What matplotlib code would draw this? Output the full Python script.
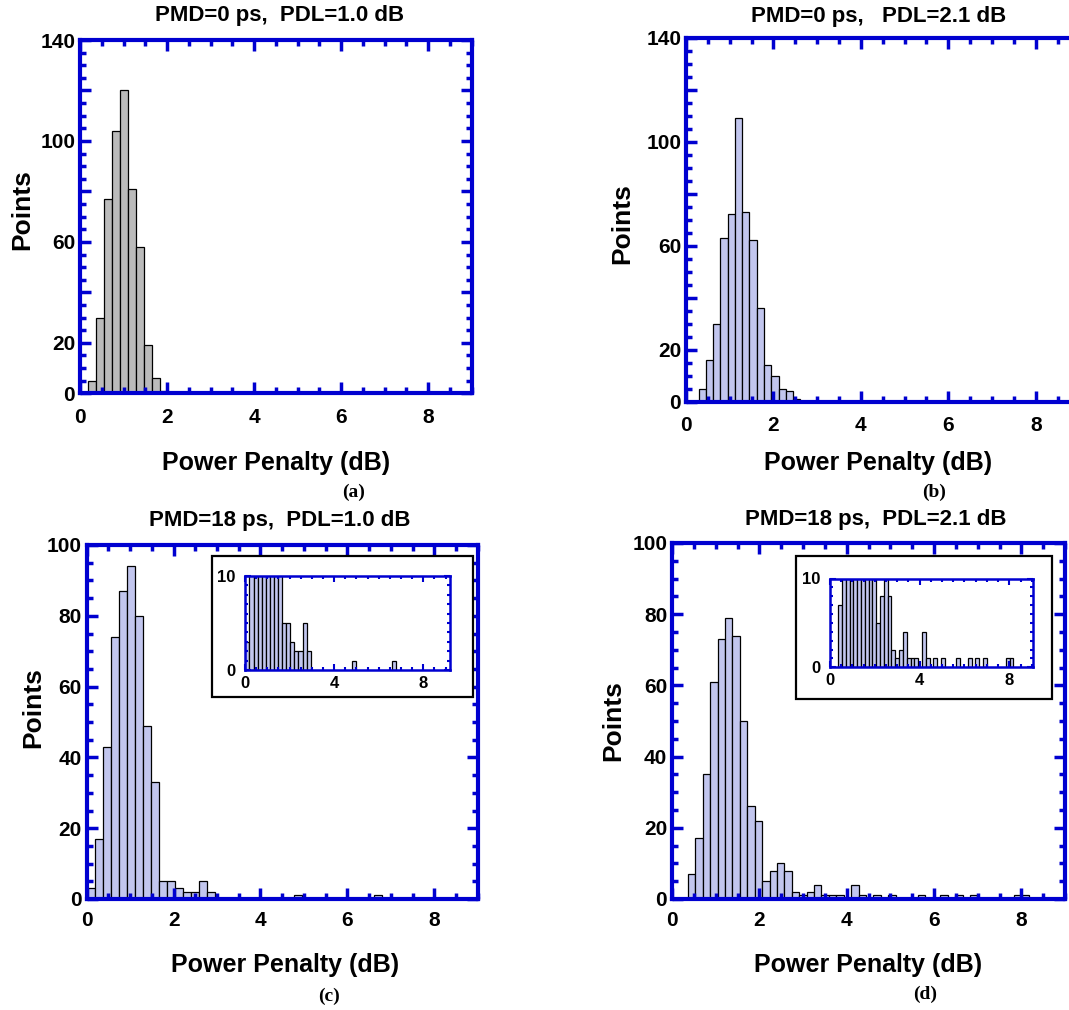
import numpy as np
import matplotlib
matplotlib.use("Agg")
import matplotlib.pyplot as plt
from matplotlib.ticker import MultipleLocator, FuncFormatter
from matplotlib.patches import Rectangle

# ---------------- data ----------------
titles = ["PMD=0 ps,  PDL=1.0 dB", "PMD=0 ps,   PDL=2.1 dB",
          "PMD=18 ps,  PDL=1.0 dB", "PMD=18 ps,  PDL=2.1 dB"]
captions = ["(a)", "(b)", "(c)", "(d)"]
xlabel_text = "Power Penalty (dB)"
ylabel_text = "Points"

# histogram bins: first bin edge (dB), bin width (dB), counts per bin
a_bin_start, a_bin_width = 0.19, 0.183
a_counts = [5, 30, 77, 104, 120, 81, 58, 19, 6, 1]

b_bin_start, b_bin_width = 0.287, 0.1664
b_counts = [5, 16, 30, 63, 72, 109, 73, 62, 36, 14, 10, 5, 4, 1]

c_bin_start, c_bin_width = 0.015, 0.1833
c_counts = ([3, 17, 43, 74, 87, 94, 80, 49, 33, 5, 5, 3, 2, 2, 5, 2]
            + [0] * 10 + [1] + [0] * 9 + [1])

d_bin_start, d_bin_width = 0.363, 0.170
d_counts = [7, 17, 35, 61, 73, 79, 74, 50, 26, 22, 5, 8, 10, 8, 2, 1, 2, 4,
            1, 1, 1, 0, 4, 1, 0, 1, 0, 1, 0, 0, 0, 1, 0, 0, 1, 0, 1, 0, 1,
            0, 0, 0, 0, 0, 1, 1]

x_tick_labels = [0, 2, 4, 6, 8]
y_labels_top = [0, 20, 60, 100, 140]
y_labels_bottom = [0, 20, 40, 60, 80, 100]
inset_x_labels = [0, 4, 8]
inset_y_labels = [0, 10]

# ---------------- style ----------------
plt.rcParams["font.family"] = ["Liberation Sans", "DejaVu Sans"]
plt.rcParams["font.weight"] = "bold"

BLUE = "#0000D0"
GRAY = "#BBBBBB"
LAV = "#C2C6EE"

W, H = 1069, 1010
fig = plt.figure(figsize=(W / 100, H / 100), dpi=100)


def add_axes(x0, x1, y0, y1):
    return fig.add_axes([x0 / W, 1 - y1 / H, (x1 - x0) / W, (y1 - y0) / H])


def label_fmt(allowed):
    return FuncFormatter(lambda v, p: f"{v:.0f}" if int(round(v)) in allowed
                         and abs(v - round(v)) < 1e-6 else "")


def draw_bars(ax, start, width, counts, color):
    counts = np.asarray(counts)
    lefts = start + width * np.arange(len(counts))
    keep = counts > 0
    ax.bar(lefts[keep], counts[keep], width=width, align="edge",
           color=color, edgecolor="black", linewidth=0.9)


def style_main(ax, ymax, ylab, xpad):
    for s in ax.spines.values():
        s.set_color(BLUE)
        s.set_linewidth(3)
    ax.set_xlim(0, 9)
    ax.set_ylim(0, ymax)
    ax.xaxis.set_major_locator(MultipleLocator(2))
    ax.xaxis.set_minor_locator(MultipleLocator(0.5))
    ax.yaxis.set_major_locator(MultipleLocator(20))
    ax.yaxis.set_minor_locator(MultipleLocator(5))
    ax.xaxis.set_major_formatter(label_fmt(x_tick_labels))
    ax.yaxis.set_major_formatter(label_fmt(ylab))
    ax.tick_params(which="both", direction="in", top=True, right=True,
                   color=BLUE)
    ax.tick_params(which="major", length=8, width=2.5)
    ax.tick_params(which="minor", length=4.5, width=2.5)
    ax.tick_params(axis="x", which="major", pad=xpad, labelsize=15)
    ax.tick_params(axis="y", which="major", pad=3.5, labelsize=15)


def make_inset(ax_px, box_px, start, width, counts, xmax):
    bx0, bx1, by0, by1 = box_px
    rect = Rectangle((bx0 / W, 1 - by1 / H), (bx1 - bx0) / W, (by1 - by0) / H,
                     transform=fig.transFigure, facecolor="white",
                     edgecolor="black", linewidth=1.6, zorder=3)
    fig.add_artist(rect)
    ia = add_axes(*ax_px)
    ia.set_zorder(4)
    draw_bars(ia, start, width, counts, LAV)
    ia.set_xlim(0, xmax)
    ia.set_ylim(0, 10)
    for s in ia.spines.values():
        s.set_color(BLUE)
        s.set_linewidth(1.8)
    ia.xaxis.set_major_locator(MultipleLocator(4))
    ia.xaxis.set_minor_locator(MultipleLocator(0.5))
    ia.yaxis.set_major_locator(MultipleLocator(10))
    ia.yaxis.set_minor_locator(MultipleLocator(1))
    ia.xaxis.set_major_formatter(label_fmt(inset_x_labels))
    ia.yaxis.set_major_formatter(label_fmt(inset_y_labels))
    ia.tick_params(which="both", direction="in", top=True, right=True,
                   color=BLUE, width=1.5)
    ia.tick_params(which="major", length=4.5)
    ia.tick_params(which="minor", length=2.5)
    ia.tick_params(axis="x", which="major", pad=4, labelsize=12)
    ia.tick_params(axis="y", which="major", pad=7, labelsize=12)
    return ia


def ftext(x, y, s, **kw):
    fig.text(x / W, 1 - y / H, s, **kw)


# ---------------- panels ----------------
ax_a = add_axes(80, 471.7, 40, 393.3)
draw_bars(ax_a, a_bin_start, a_bin_width, a_counts, GRAY)
style_main(ax_a, 140, y_labels_top, 10.4)

ax_b = add_axes(686, 1079.5, 37.7, 401.7)
draw_bars(ax_b, b_bin_start, b_bin_width, b_counts, LAV)
style_main(ax_b, 140, y_labels_top, 10.4)

ax_c = add_axes(86.7, 477.7, 545, 899)
draw_bars(ax_c, c_bin_start, c_bin_width, c_counts, LAV)
style_main(ax_c, 100, y_labels_bottom, 8.9)

ax_d = add_axes(672, 1065, 543, 899)
draw_bars(ax_d, d_bin_start, d_bin_width, d_counts, LAV)
style_main(ax_d, 100, y_labels_bottom, 8.9)

make_inset((245, 450, 576, 670), (211.7, 473.3, 556, 697),
           c_bin_start, c_bin_width, c_counts, 9.2)
make_inset((830, 1033.3, 578.5, 667.3), (795.7, 1051.7, 556, 699.3),
           d_bin_start, d_bin_width, d_counts, 9.07)

# titles
title_kw = dict(fontsize=16, ha="center", va="baseline")
ftext(279.7, 21.5, titles[0], **title_kw)
ftext(879, 22, titles[1], **title_kw)
ftext(280, 526, titles[2], **title_kw)
ftext(875.6, 525, titles[3], **title_kw)

# x labels
xl_kw = dict(fontsize=18, ha="center", va="baseline")
ftext(276, 470, xlabel_text, **xl_kw)
ftext(878, 470, xlabel_text, **xl_kw)
ftext(285, 972, xlabel_text, **xl_kw)
ftext(868, 972, xlabel_text, **xl_kw)

# y labels
yl_kw = dict(fontsize=19, ha="center", va="center", rotation=90)
ftext(22.7, 210, ylabel_text, **yl_kw)
ftext(622, 224, ylabel_text, **yl_kw)
ftext(33, 708, ylabel_text, **yl_kw)
ftext(613, 721, ylabel_text, **yl_kw)

# captions
cap_kw = dict(fontsize=14, ha="center", va="baseline",
              family=["Liberation Serif", "DejaVu Serif"], weight="bold")
ftext(353.6, 497, captions[0], **cap_kw)
ftext(933.8, 497, captions[1], **cap_kw)
ftext(328.6, 1001, captions[2], **cap_kw)
ftext(925, 999, captions[3], **cap_kw)

fig.savefig("out.png", dpi=100)
